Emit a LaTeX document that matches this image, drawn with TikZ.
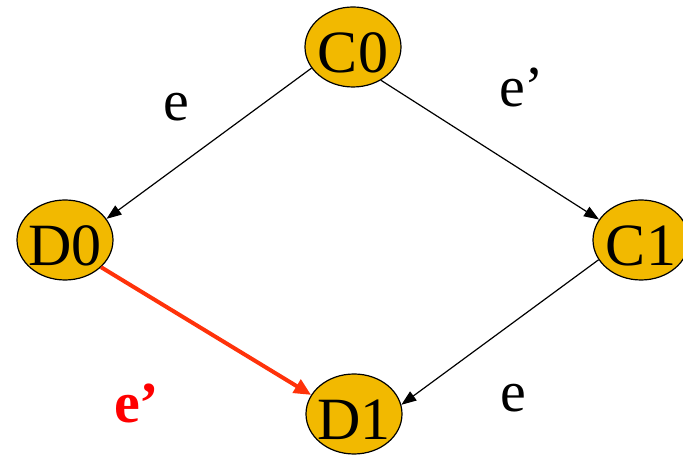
\documentclass[tikz,border=0pt]{standalone}
\usepackage{fontspec}
\setmainfont{Liberation Serif}
\usetikzlibrary{shapes.geometric,arrows.meta}
\definecolor{gold}{RGB}{242,185,0}
\definecolor{arrred}{RGB}{255,50,10}
\tikzset{
  state/.style={ellipse, draw=black, line width=1.2pt, fill=gold, minimum width=96pt, minimum height=80pt, inner sep=0pt},
  statetext/.style={anchor=base, inner sep=0pt, font=\fontsize{60}{60}\selectfont},
  lbl/.style={anchor=base west, inner sep=0pt, font=\fontsize{58}{58}\selectfont},
  edge/.style={draw=black, line width=1.2pt, -{Triangle[length=15pt,width=11pt]}},
  redge/.style={draw=arrred, line width=4pt, -{Triangle[length=17pt,width=15pt]}}
}
\begin{document}
\begin{tikzpicture}[x=1pt,y=1pt]
\useasboundingbox (0,0) rectangle (683,457);
\node[state] (C0) at (353,410) {};
\node[state] (D0) at (65,217) {};
\node[state] (C1) at (641,217) {};
\node[state] (D1) at (354,43) {};
\node[statetext] (C0t) at ([yshift=-26pt]C0.center) {C0};
\node[statetext] (D0t) at ([yshift=-26pt]D0.center) {D0};
\node[statetext] (C1t) at ([yshift=-26pt]C1.center) {C1};
\node[statetext] (D1t) at ([yshift=-26pt]D1.center) {D1};
\draw[edge] (C0.207) -- (D0.27);
\draw[edge] (C0.310) -- (C1.154);
\draw[edge] (C1.205) -- (D1.11);
\draw[redge] (D0.323) -- (D1.156);
\node[lbl] (l1) at (163,336) {e};
\node[lbl] (l2) at (499,350) {e’};
\node[lbl, text=red, font=\fontsize{58}{58}\selectfont\bfseries] (l3) at (114,34) {e’};
\node[lbl] (l4) at (500,45) {e};
\end{tikzpicture}
\end{document}
